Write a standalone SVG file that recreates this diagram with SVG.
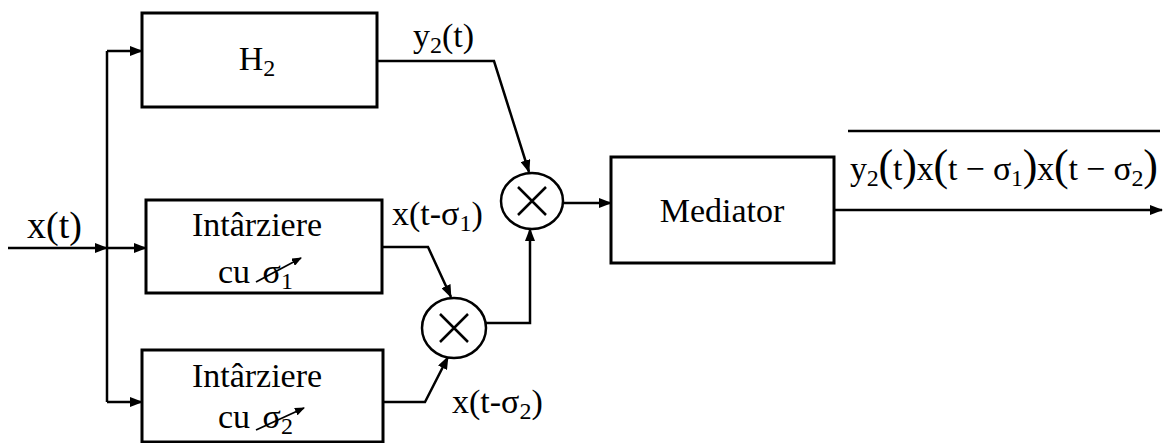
<svg xmlns="http://www.w3.org/2000/svg" width="1164" height="443" viewBox="0 0 1164 443">
<defs>
<marker id="ah" markerWidth="13" markerHeight="10" refX="12" refY="5" orient="auto" markerUnits="userSpaceOnUse"><path d="M0,0 L13,5 L0,10 z" fill="#000"/></marker>
<marker id="sa" markerWidth="10" markerHeight="8" refX="9" refY="4" orient="auto" markerUnits="userSpaceOnUse"><path d="M0,0 L10,4 L0,8 z" fill="#000"/></marker>
</defs>
<style>
.ln{fill:none;stroke:#000;stroke-width:2.5}
.box{fill:#fff;stroke:#000;stroke-width:3}
.t{font-family:"Liberation Serif","Times New Roman",serif;font-size:34px;fill:#000}
.sub{font-size:24px}
.mul{fill:#fff;stroke:#000;stroke-width:2.5}
.x{stroke:#000;stroke-width:2.5}
.va{stroke:#000;stroke-width:1.8;fill:none}
</style>
<rect width="1164" height="443" fill="#fff"/>
<g id="connectors">
<path class="ln" d="M8,248 H107" marker-end="url(#ah)"/>
<path class="ln" d="M107,248 H146" marker-end="url(#ah)"/>
<path class="ln" d="M107,51 V402"/>
<path class="ln" d="M107,51 H142" marker-end="url(#ah)"/>
<path class="ln" d="M107,402 H142" marker-end="url(#ah)"/>
<path class="ln" d="M377,61 H494 L529,172" marker-end="url(#ah)"/>
<path class="ln" d="M382,247 H428 L451,297" marker-end="url(#ah)"/>
<path class="ln" d="M383,402 H425 L448,357" marker-end="url(#ah)"/>
<path class="ln" d="M486,323 H530 V229" marker-end="url(#ah)"/>
<path class="ln" d="M563,203 H611" marker-end="url(#ah)"/>
<path class="ln" d="M834,210 H1162" marker-end="url(#ah)"/>
</g>
<g id="h2">
<rect class="box" x="142" y="13" width="235" height="94"/>
<text class="t" x="257" y="70" text-anchor="middle">H<tspan class="sub" dy="6">2</tspan></text>
</g>
<g id="delay1">
<rect class="box" x="146" y="200" width="236" height="93"/>
<text class="t" x="257" y="236" text-anchor="middle">Intârziere</text>
<text class="t" x="218" y="283">cu <tspan dx="4">σ</tspan><tspan class="sub" dy="6">1</tspan></text>
<path class="va" d="M256,282 L301,258" marker-end="url(#sa)"/>
</g>
<g id="delay2">
<rect class="box" x="142" y="350" width="241" height="92"/>
<text class="t" x="257" y="387" text-anchor="middle">Intârziere</text>
<text class="t" x="218" y="428">cu <tspan dx="4">σ</tspan><tspan class="sub" dy="6">2</tspan></text>
<path class="va" d="M256,430 L304,408" marker-end="url(#sa)"/>
</g>
<g id="mult1">
<ellipse class="mul" cx="454" cy="328" rx="32" ry="30"/>
<path class="x" d="M440,314 L468,342 M468,314 L440,342"/>
</g>
<g id="mult2">
<ellipse class="mul" cx="532" cy="201" rx="31" ry="28"/>
<path class="x" d="M518,187 L546,215 M546,187 L518,215"/>
</g>
<g id="mediator">
<rect class="box" x="611" y="157" width="223" height="106"/>
<text class="t" x="722" y="222" text-anchor="middle">Mediator</text>
</g>
<g id="labels">
<text class="t" x="27" y="238" style="font-size:38px">x(t)</text>
<text class="t" x="413" y="47">y<tspan class="sub" dy="6">2</tspan><tspan dy="-6">(t)</tspan></text>
<text class="t" x="392" y="225">x(t-σ<tspan class="sub" dy="6">1</tspan><tspan dy="-6">)</tspan></text>
<text class="t" x="452" y="413">x(t-σ<tspan class="sub" dy="6">2</tspan><tspan dy="-6">)</tspan></text>
<text class="t" x="850" y="180" textLength="308" lengthAdjust="spacing">y<tspan class="sub" dy="6">2</tspan><tspan dy="-6" style="font-size:44px">(</tspan>t<tspan style="font-size:44px">)</tspan>x<tspan style="font-size:44px">(</tspan>t − σ<tspan class="sub" dy="6">1</tspan><tspan dy="-6" style="font-size:44px">)</tspan>x<tspan style="font-size:44px">(</tspan>t − σ<tspan class="sub" dy="6">2</tspan><tspan dy="-6" style="font-size:44px">)</tspan></text>
<path class="ln" d="M848,131 H1160"/>
</g>
</svg>
